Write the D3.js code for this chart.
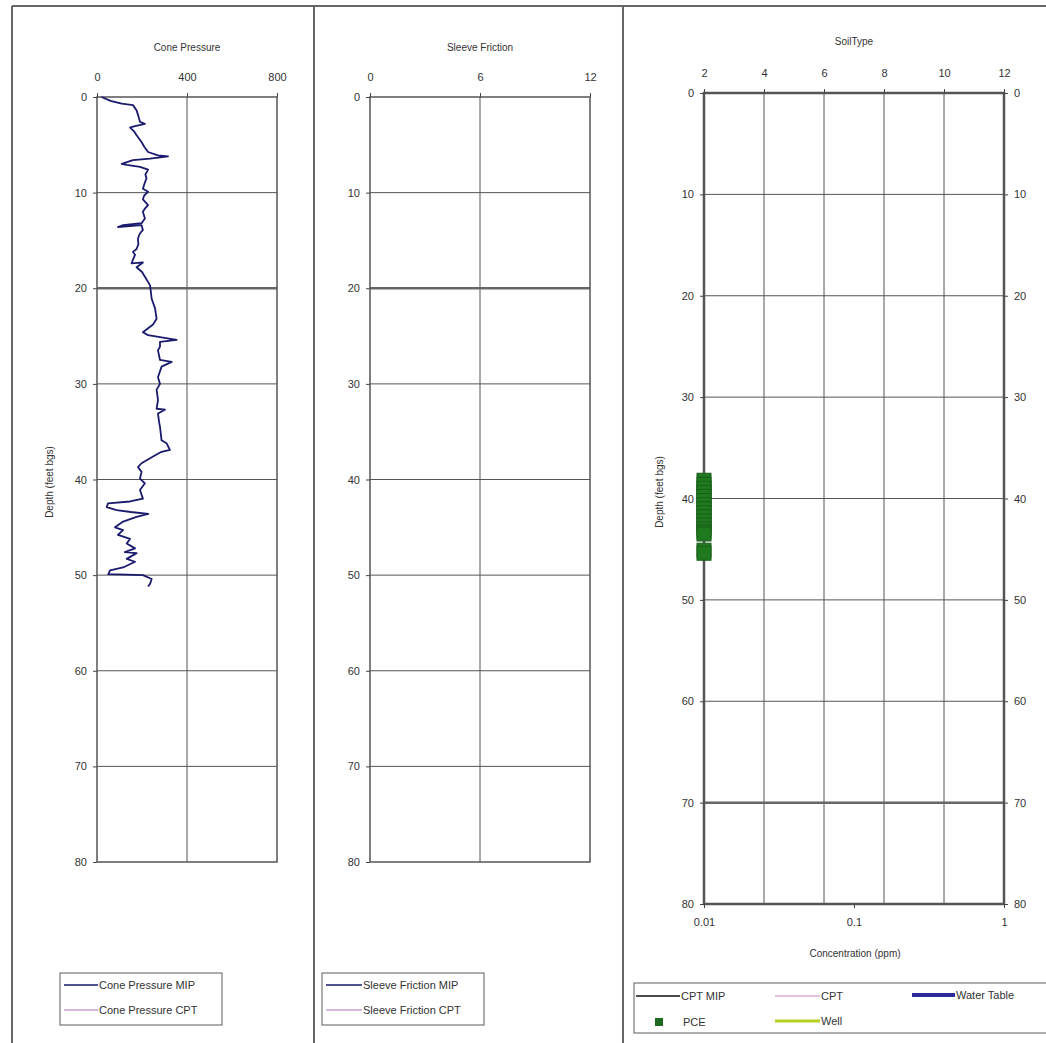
<!DOCTYPE html>
<html>
<head>
<meta charset="utf-8">
<script src="https://cdn.jsdelivr.net/npm/d3@7"></script>
<style>
  body { margin: 0; background: #fff; }
  svg text { font-family: "Liberation Sans", Arial, sans-serif; fill: #333; }
  .axis path, .axis line { stroke: #444; }
</style>
</head>
<body>
<script>
// depth ticks shared by all tracks
var depthTicks = [0, 10, 20, 30, 40, 50, 60, 70, 80];
var coneTicks = [0, 400, 800];
var sleeveTicks = [0, 6, 12];
var soilTicks = [2, 4, 6, 8, 10, 12];
var concTicks = [0.01, 0.1, 1];

// cone pressure MIP log: [depth ft, pressure]
var coneDepth = [0, 0.4, 0.7, 0.85, 1.4, 2.0, 2.6, 2.8, 3.1, 3.2, 3.6, 4.0, 4.7, 5.2, 5.75, 6.1, 6.2, 6.45,
  6.6, 7.0, 7.1, 7.3, 7.6, 8.1, 8.5, 9.0, 9.6, 9.9, 10.3, 10.7, 11.3, 11.7, 12.0, 12.7, 13.2, 13.4, 13.6,
  13.4, 13.9, 14.3, 14.8, 15.4, 15.9, 16.2, 16.5, 17.0, 17.4, 17.3, 17.8, 18.3, 18.8, 19.7, 21.1, 22.1,
  23.2, 23.8, 24.6, 24.9, 25.1, 25.4, 25.6, 26.1, 26.5, 27.5, 27.7, 28.2, 29.3, 30.0, 30.6, 31.7, 32.6,
  32.7, 33.1, 34.0, 34.5, 35.9, 36.2, 36.9, 37.1, 37.6, 38.3, 38.7, 39.2, 39.9, 40.4, 41.1, 42.0, 42.3,
  42.5, 42.9, 43.2, 43.4, 43.6, 43.9, 44.4, 45.0, 45.3, 45.8, 46.2, 46.7, 47.2, 47.6, 47.7, 48.3, 48.6,
  49.2, 49.5, 49.9, 49.95, 50.0, 50.4, 50.9, 51.2];
var conePressure = [20, 60, 110, 160, 176, 184, 191, 213, 160, 147, 165, 176, 198, 210, 227, 271, 316, 236,
  160, 110, 132, 191, 227, 215, 220, 212, 204, 227, 210, 204, 227, 212, 204, 213, 198, 116, 93,
  198, 204, 190, 182, 184, 176, 160, 169, 160, 154, 204, 176, 200, 213, 236, 243, 258,
  265, 249, 204, 227, 280, 354, 280, 280, 271, 280, 332, 287, 271, 280, 265, 271, 265,
  302, 271, 276, 280, 287, 309, 324, 287, 249, 198, 182, 198, 191, 213, 191, 204, 147,
  49, 43, 87, 150, 228, 176, 116, 80, 116, 93, 147, 132, 169, 124, 176, 132, 169,
  116, 58, 50, 132, 204, 243, 236, 227];

// PCE hits, all at the 0.01 ppm reporting limit
var pceDepth = [38.2, 38.6, 39.0, 39.4, 39.8, 40.2, 40.6, 41.0, 41.4, 41.8, 42.2, 42.6, 43.0, 43.3, 43.5, 45.1, 45.4];
var pceConc = [0.01, 0.01, 0.01, 0.01, 0.01, 0.01, 0.01, 0.01, 0.01, 0.01, 0.01, 0.01, 0.01, 0.01, 0.01, 0.01, 0.01];

var svg = d3.select("body").append("svg")
            .attr("width", 1046)
            .attr("height", 1043);

// frame round the three tracks
svg.append("line").attr("x1", 12).attr("x2", 1046).attr("y1", 6).attr("y2", 6)
   .attr("stroke", "#666").attr("stroke-width", 2);
[12, 314, 623].forEach(function(x) {
  svg.append("line").attr("x1", x).attr("x2", x).attr("y1", 6).attr("y2", 1043)
     .attr("stroke", "#666").attr("stroke-width", 2);
});

var drawTrack = function(o) {
  var g = svg.append("g");
  var x = d3.scaleLinear().domain(o.xDomain).range([o.left, o.right]);
  var y = d3.scaleLinear().domain([0, 80]).range([o.top, o.bottom]);

  // grid
  g.selectAll(".vgrid").data(o.xTicks.slice(1, -1)).enter().append("line")
   .attr("x1", function(d) { return x(d); }).attr("x2", function(d) { return x(d); })
   .attr("y1", o.top).attr("y2", o.bottom)
   .attr("stroke", "#555").attr("stroke-width", 1);
  g.selectAll(".hgrid").data(depthTicks.slice(1, -1)).enter().append("line")
   .attr("x1", o.left).attr("x2", o.right)
   .attr("y1", function(d) { return y(d); }).attr("y2", function(d) { return y(d); })
   .attr("stroke", function(d) { return o.heavy.indexOf(d) >= 0 ? "#666" : "#555"; })
   .attr("stroke-width", function(d) { return o.heavy.indexOf(d) >= 0 ? 2.5 : 1; });

  // border
  g.append("rect").attr("x", o.left).attr("y", o.top)
   .attr("width", o.right - o.left).attr("height", o.bottom - o.top)
   .attr("fill", "none").attr("stroke", "#555").attr("stroke-width", o.borderW);

  g.append("g").attr("class", "axis")
   .attr("transform", "translate(" + o.left + ",0)")
   .call(d3.axisLeft(y).tickValues(depthTicks).tickSize(4).tickPadding(6))
   .call(function(a) { a.select(".domain").remove(); a.selectAll("text").attr("font-size", 11); });

  g.append("g").attr("class", "axis")
   .attr("transform", "translate(0," + o.top + ")")
   .call(d3.axisTop(x).tickValues(o.xTicks).tickSize(4).tickPadding(o.topPad)
           .tickFormat(d3.format("d")))
   .call(function(a) { a.select(".domain").remove(); a.selectAll("text").attr("font-size", 11); });

  g.append("text").attr("x", (o.left + o.right) / 2).attr("y", o.titleY)
   .attr("text-anchor", "middle").attr("font-size", 10).text(o.title);

  if (o.labelX) {
    g.append("text")
     .attr("transform", "translate(" + o.labelX + "," + o.labelY + ") rotate(-90)")
     .attr("text-anchor", "middle").attr("font-size", 10).text("Depth (feet bgs)");
  }

  return { x: x, y: y, g: g };
};

var t1 = drawTrack({ left: 97, right: 277, top: 97, bottom: 862, xDomain: [0, 800], xTicks: coneTicks,
  heavy: [20], borderW: 1.5, topPad: 12, title: "Cone Pressure", titleY: 51, labelX: 53, labelY: 482 });
var t2 = drawTrack({ left: 370, right: 590, top: 97, bottom: 862, xDomain: [0, 12], xTicks: sleeveTicks,
  heavy: [20], borderW: 1.5, topPad: 12, title: "Sleeve Friction", titleY: 51, labelX: 0, labelY: 0 });
var t3 = drawTrack({ left: 704, right: 1004, top: 93, bottom: 904, xDomain: [2, 12], xTicks: soilTicks,
  heavy: [70], borderW: 2.5, topPad: 12, title: "SoilType", titleY: 45, labelX: 663, labelY: 492 });

// cone pressure line
var coneLine = d3.line()
  .x(function(d, i) { return t1.x(conePressure[i]); })
  .y(function(d) { return t1.y(d); });
t1.g.append("path").datum(coneDepth)
  .attr("d", coneLine)
  .attr("fill", "none").attr("stroke", "#1a1a6e").attr("stroke-width", 1.8)
  .attr("stroke-linejoin", "round");

// right depth axis and log concentration axis on track 3
t3.g.append("g").attr("class", "axis")
  .attr("transform", "translate(1004,0)")
  .call(d3.axisRight(t3.y).tickValues(depthTicks).tickSize(4).tickPadding(6))
  .call(function(a) { a.select(".domain").remove(); a.selectAll("text").attr("font-size", 11); });

var conc = d3.scaleLog().domain([0.01, 1]).range([704, 1004]);
t3.g.append("g").attr("class", "axis")
  .attr("transform", "translate(0,904)")
  .call(d3.axisBottom(conc).tickValues(concTicks).tickSize(4).tickPadding(10)
          .tickFormat(function(d) { return d === 1 ? "1" : String(d); }))
  .call(function(a) { a.select(".domain").remove(); a.selectAll("text").attr("font-size", 11); });
t3.g.append("text").attr("x", 855).attr("y", 957).attr("text-anchor", "middle")
  .attr("font-size", 10).text("Concentration (ppm)");

// PCE markers
t3.g.selectAll(".pce").data(pceDepth).enter().append("rect")
  .attr("x", function(d, i) { return conc(pceConc[i]) - 7; })
  .attr("y", function(d) { return t3.y(d) - 7; })
  .attr("width", 14).attr("height", 14)
  .attr("fill", "#1f7a1f").attr("stroke", "#1a5e1a").attr("stroke-width", 1);

// legends
var legendBox = function(x, y, w, h) {
  svg.append("rect").attr("x", x).attr("y", y).attr("width", w).attr("height", h)
     .attr("fill", "#fff").attr("stroke", "#777").attr("stroke-width", 1.2);
};
var legendLine = function(x1, x2, y, color, w, label) {
  svg.append("line").attr("x1", x1).attr("x2", x2).attr("y1", y).attr("y2", y)
     .attr("stroke", color).attr("stroke-width", w);
  svg.append("text").attr("x", x2 + 1).attr("y", y + 4).attr("font-size", 11).text(label);
};

legendBox(60, 973, 162, 52);
legendLine(64, 98, 985, "#1a1a6e", 1.5, "Cone Pressure MIP");
legendLine(64, 98, 1010, "#c9a0d8", 1.5, "Cone Pressure CPT");

legendBox(322, 973, 162, 52);
legendLine(326, 362, 985, "#1a1a6e", 1.5, "Sleeve Friction MIP");
legendLine(326, 362, 1010, "#c9a0d8", 1.5, "Sleeve Friction CPT");

legendBox(634, 983, 420, 50);
legendLine(636, 680, 996, "#111", 1.5, "CPT MIP");
legendLine(775, 820, 996, "#d080c0", 1.2, "CPT");
legendLine(912, 955, 995, "#2a2a9a", 4, "Water Table");
svg.append("rect").attr("x", 655).attr("y", 1018).attr("width", 8).attr("height", 8).attr("fill", "#1f6a1f");
svg.append("text").attr("x", 683).attr("y", 1026).attr("font-size", 11).text("PCE");
legendLine(775, 820, 1021, "#b8d020", 3, "Well");
</script>
</body>
</html>
